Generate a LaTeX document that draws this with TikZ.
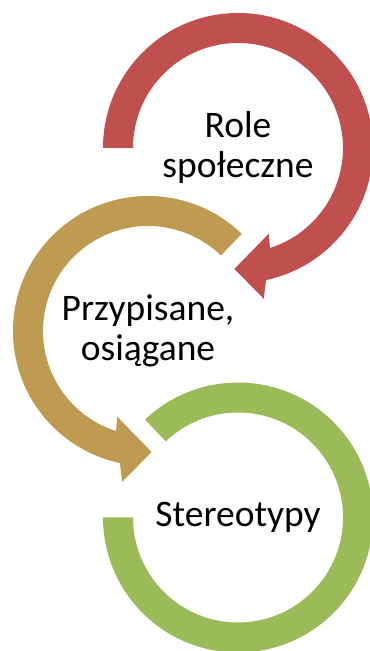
\documentclass[tikz,border=0pt]{standalone}
\usepackage{fontspec}
\setmainfont{Carlito}
\definecolor{rolered}{RGB}{192, 80, 77}
\definecolor{przypgold}{RGB}{191, 155, 82}
\definecolor{stereogreen}{RGB}{155, 187, 89}
\usepackage{tikz}

\begin{document}
\begin{tikzpicture}[x=1bp, y=1bp]
  \useasboundingbox (0, 0) rectangle (369, 651);

  % Centres of the three rings
  \coordinate (rolec) at (238, 503);
  \coordinate (przypc) at (148, 320);
  \coordinate (stereoc) at (238, 133.5);

  % Role spoleczne: clockwise, head at the bottom
  \fill[rolered, shift={(rolec)}] (180:135bp) arc[start angle=180, end angle=-78, radius=135bp]
    -- (-80.3:153bp) -- (-91.7:121bp) -- (-70.2:91bp) -- (-72.3:105bp)
    arc[start angle=-72.3, end angle=180, radius=105bp] -- cycle;

  % Przypisane: counter-clockwise, head at the bottom
  \fill[przypgold, shift={(przypc)}] (46:135bp) arc[start angle=46, end angle=258, radius=135bp]
    -- (260.3:153bp) -- (271.7:121bp) -- (250.2:91bp) -- (252.3:105bp)
    arc[start angle=252.3, end angle=46, radius=105bp] -- cycle;

  % Stereotypy: clockwise, no head
  \fill[stereogreen, shift={(stereoc)}] (133.5:135bp) arc[start angle=133.5, end angle=-180, radius=135bp]
    -- (-180:105bp) arc[start angle=-180, end angle=133.5, radius=105bp] -- cycle;

  % Labels
  \node[align=center, font=\fontsize{37.5bp}{40bp}\selectfont] (role) at (rolec) {Role\\społeczne};
  \node[align=center, font=\fontsize{37.5bp}{40bp}\selectfont] (przyp) at (przypc) {Przypisane,\\osiągane};
  \node[align=center, font=\fontsize{37.5bp}{40bp}\selectfont] (stereo) at (stereoc) {Stereotypy};
\end{tikzpicture}
\end{document}
